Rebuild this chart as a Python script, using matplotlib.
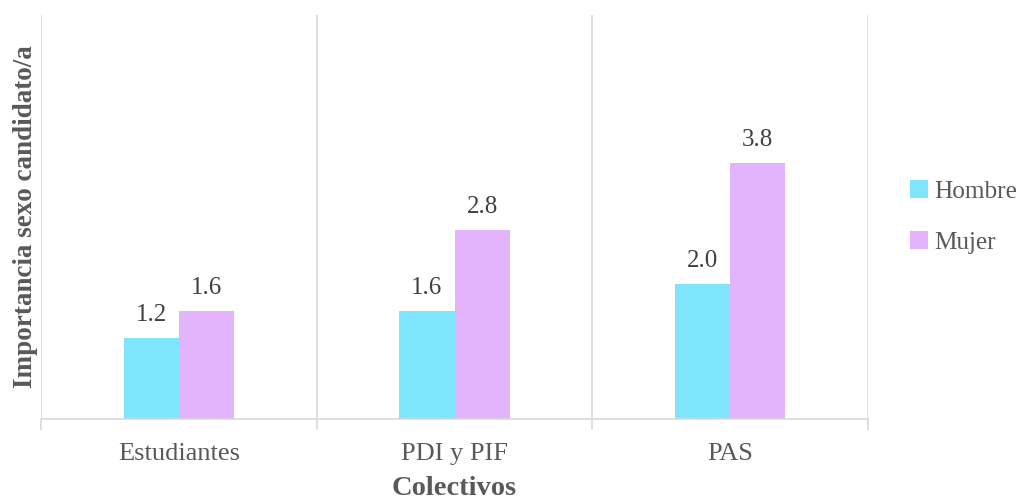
import matplotlib.pyplot as plt
import numpy as np

plt.rcParams['font.family'] = ['Liberation Serif', 'DejaVu Serif']

# data
categorias = ['Estudiantes', 'PDI y PIF', 'PAS']
hombre = [1.2, 1.6, 2.0]
mujer = [1.6, 2.8, 3.8]
series = ['Hombre', 'Mujer']
colores = ['#7FE5FC', '#E3B3FC']
txt = '#595959'
grid_c = '#D9D9D9'

fig = plt.figure(figsize=(10.18, 5.01), dpi=100)
ax = fig.add_axes([0.0403, 0.1637, 0.8124, 0.8063])

x = np.arange(len(categorias))
w = 0.2
b1 = ax.bar(x - w/2, hombre, w, color=colores[0], label=series[0])
b2 = ax.bar(x + w/2, mujer, w, color=colores[1], label=series[1])

for bars, vals in [(b1, hombre), (b2, mujer)]:
    for b, v in zip(bars, vals):
        ax.annotate(f'{v:.1f}', (b.get_x() + b.get_width()/2, v),
                    xytext=(0, 9), textcoords='offset points',
                    ha='center', va='bottom', fontsize=18, color='#404040')

ax.set_xlim(-0.5, 2.5)
ax.set_ylim(0, 6)
ax.set_yticks([])
ax.set_xticks(x)
ax.set_xticklabels(categorias, fontsize=19, color=txt)
ax.set_xticks([-0.5, 0.5, 1.5, 2.5], minor=True)
ax.tick_params(axis='x', which='major', length=0, pad=17)
ax.tick_params(axis='x', which='minor', length=8, width=1.2, color=grid_c)
for xv in [-0.5, 0.5, 1.5, 2.5]:
    ax.axvline(xv, color=grid_c, lw=1.2, zorder=0)
for s in ['top', 'right', 'left']:
    ax.spines[s].set_visible(False)
ax.spines['bottom'].set_color(grid_c)
ax.spines['bottom'].set_linewidth(1.2)

ax.set_ylabel('Importancia sexo candidato/a', fontsize=19.5, fontweight='bold', color=txt, labelpad=2.5)
ax.set_xlabel('Colectivos', fontsize=20.5, fontweight='bold', color=txt, labelpad=8)

leg = fig.legend(loc='center left', bbox_to_anchor=(0.894, 0.567), frameon=False,
                 fontsize=18.2, labelspacing=1.1, handlelength=0.7, handleheight=0.7,
                 handletextpad=0.25, borderpad=0, borderaxespad=0)
for t in leg.get_texts():
    t.set_color(txt)

fig.savefig('out.png', dpi=100)
